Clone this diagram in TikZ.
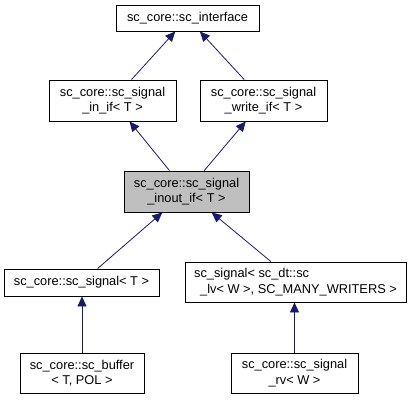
\documentclass[tikz,border=0pt]{standalone}
\usepackage{fontspec}
\setmainfont{Liberation Sans}
\usetikzlibrary{arrows.meta}
\definecolor{edgeblue}{RGB}{25,25,112}
\tikzset{%
  classnode/.style = {shape=rectangle, draw=black, line width=0.9pt,%
                      align=center, inner sep=0pt, fill=white},%
  current/.style   = {classnode, fill=black!25},%
  inherit/.style   = {draw=edgeblue, line width=0.8pt,%
                      {Triangle[length=10pt,width=9pt,fill=edgeblue]}-}%
}
\begin{document}
\begin{tikzpicture}
  [x=1pt,y=-1pt,
  every node/.style = {font=\fontsize{12.8}{15.6}\selectfont}]
  \useasboundingbox (0,0) rectangle (409,400);
  % top row
  \node [classnode, minimum width=143pt, minimum height=26pt] (iface) at (187.5,18) {sc\_core::sc\_interface};
  % second row
  \node [classnode, minimum width=127pt, minimum height=41pt] (inif) at (112.5,100.5) {sc\_core::sc\_signal\\\_in\_if< T >};
  \node [classnode, minimum width=127pt, minimum height=41pt] (writeif) at (263.5,100.5) {sc\_core::sc\_signal\\\_write\_if< T >};
  % the class itself
  \node [current, minimum width=125pt, minimum height=41pt] (inoutif) at (186.5,191.5) {sc\_core::sc\_signal\\\_inout\_if< T >};
  % derived classes
  \node [classnode, minimum width=155pt, minimum height=27pt] (signal) at (81.5,282.5) {sc\_core::sc\_signal< T >};
  \node [classnode, minimum width=221pt, minimum height=40pt, align=left] (signallv) at (295.5,282) {sc\_signal< sc\_dt::sc\\\hspace*{6pt}\_lv< W >, SC\_MANY\_WRITERS >};
  \node [classnode, minimum width=124pt, minimum height=40pt] (buffer) at (82,373) {sc\_core::sc\_buffer\\< T, POL >};
  \node [classnode, minimum width=127pt, minimum height=40pt] (signalrv) at (294.5,373) {sc\_core::sc\_signal\\\_rv< W >};
  % inheritance
  \draw [inherit] (iface) -- (inif);
  \draw [inherit] (iface) -- (writeif);
  \draw [inherit] (inif) -- (inoutif);
  \draw [inherit] (writeif) -- (inoutif);
  \draw [inherit] (inoutif) -- (signal);
  \draw [inherit] (inoutif) -- (signallv);
  \draw [inherit] (signal.south -| buffer) -- (buffer);
  \draw [inherit] (signallv.south -| signalrv) -- (signalrv);
\end{tikzpicture}
\end{document}
